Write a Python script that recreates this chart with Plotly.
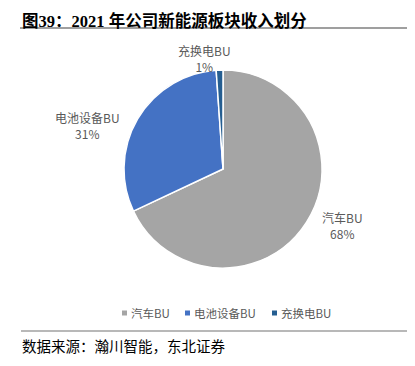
import plotly.graph_objects as go

categories = ["汽车BU", "电池设备BU", "充换电BU"]
values = [68.0, 30.9, 1.1]
colors = ["#A5A5A5", "#4472C4", "#255E91"]

title_text = "<b>图39：2021 年公司新能源板块收入划分</b>"
source_text = "数据来源：瀚川智能，东北证券"

# figure is offset 8px by the page body margin; layout is given in figure pixels
W, H = 407, 358


def px(x):
    return x / W


def py(y):
    return 1 - y / H


total = sum(values)
pct_labels = [f"{round(v / total * 100):.0f}%" for v in values]

fig = go.Figure()
fig.add_trace(go.Pie(
    labels=categories,
    values=values,
    sort=False,
    direction="clockwise",
    rotation=0,
    marker=dict(colors=colors, line=dict(color="white", width=1.5)),
    textinfo="none",
    domain=dict(x=[px(116), px(314)], y=[py(260), py(62)]),
    showlegend=False,
    hoverinfo="label+percent",
))

label_pos = [(334, 217.5), (79, 117.5), (196, 50)]
annotations = [
    dict(text=title_text, xref="paper", yref="paper", x=px(12), y=py(1), 
         xanchor="left", yanchor="top", showarrow=False,
         font=dict(size=16.5, color="#000000", family="Liberation Serif, Noto Sans CJK SC")),
    dict(text=source_text, xref="paper", yref="paper", x=px(12), y=py(337),
         xanchor="left", yanchor="middle", showarrow=False,
         font=dict(size=14.5, color="#000000", family="Noto Sans CJK SC")),
]
for cat, pct, (lx, ly) in zip(categories, pct_labels, label_pos):
    annotations.append(dict(
        text=f"{cat}<br>{pct}", xref="paper", yref="paper", x=px(lx), y=py(ly),
        xanchor="center", yanchor="middle", showarrow=False,
        font=dict(size=12, color="#595959", family="Noto Sans CJK SC")))

shapes = [
    dict(type="line", xref="paper", yref="paper", x0=px(12), x1=px(400),
         y0=py(20), y1=py(20), line=dict(color="#404040", width=1.2)),
    dict(type="line", xref="paper", yref="paper", x0=px(13), x1=px(400),
         y0=py(323), y1=py(323), line=dict(color="#A0A0A0", width=1.5)),
]

# legend drawn as small squares + text
legend_marker_x = [114, 177, 264]
legend_y = 305
for cat, col, mx in zip(categories, colors, legend_marker_x):
    shapes.append(dict(type="rect", xref="paper", yref="paper",
                       x0=px(mx), x1=px(mx + 5), y0=py(legend_y + 2.5), y1=py(legend_y - 2.5),
                       fillcolor=col, line=dict(width=0)))
    annotations.append(dict(text=cat, xref="paper", yref="paper", x=px(mx + 7), y=py(legend_y),
                            xanchor="left", yanchor="middle", showarrow=False,
                            font=dict(size=11.5, color="#595959", family="Noto Sans CJK SC")))

fig.update_layout(
    width=W, height=H,
    margin=dict(l=0, r=0, t=0, b=0),
    paper_bgcolor="white",
    plot_bgcolor="white",
    font=dict(family="Noto Sans CJK SC", color="#595959"),
    showlegend=False,
    annotations=annotations,
    shapes=shapes,
)

fig.write_html("out.html")
